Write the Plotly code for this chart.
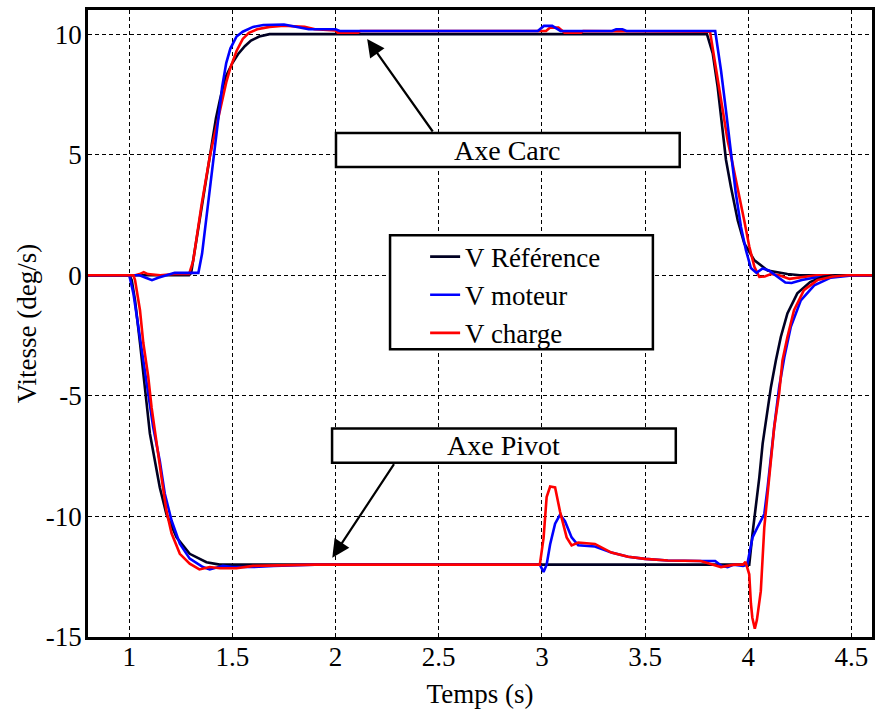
import plotly.graph_objects as go

# ---- Axe Carc : vitesse (deg/s) en fonction du temps (s) ----
carc_ref_t = [0.80, 1.29, 1.30, 1.315, 1.34, 1.36, 1.38, 1.40, 1.42, 1.44, 1.466, 1.50, 1.53,
              1.56, 1.59, 1.63, 1.68, 3.80, 3.828, 3.852, 3.876, 3.892, 3.916, 3.949, 3.981,
              4.03, 4.094, 4.19, 4.25, 4.60]
carc_ref_v = [0, 0, 0.1, 0.9, 2.3, 3.4, 4.5, 5.6, 6.5, 7.3, 8.2, 8.8, 9.2,
              9.5, 9.73, 9.9, 10.0, 10.0, 9.2, 7.8, 6.0, 4.8, 3.67, 2.28, 1.32,
              0.62, 0.2, 0.05, 0, 0]

carc_mot_t = [0.80, 1.00, 1.05, 1.08, 1.11, 1.14, 1.18, 1.22, 1.32, 1.335, 1.353, 1.377, 1.40,
              1.414, 1.43, 1.45, 1.47, 1.49, 1.52, 1.55, 1.60, 1.65, 1.75, 1.82, 1.87, 2.00,
              2.02, 2.98, 3.01, 3.05, 3.09, 3.34, 3.36, 3.39, 3.41, 3.84, 3.868, 3.892, 3.916,
              3.94, 3.965, 3.989, 4.013, 4.04, 4.07, 4.10, 4.14, 4.18, 4.21, 4.26, 4.32, 4.40,
              4.46, 4.60]
carc_mot_v = [0, 0, 0, -0.1, -0.2, -0.1, 0.0, 0.1, 0.1, 0.1, 0.9, 2.6, 4.1,
              5.0, 6.3, 7.8, 8.8, 9.4, 9.9, 10.1, 10.3, 10.38, 10.4, 10.3, 10.2, 10.2,
              10.13, 10.13, 10.34, 10.34, 10.13, 10.13, 10.2, 10.2, 10.13, 10.13, 8.5, 6.85, 5.07,
              3.4, 2.0, 1.04, 0.3, 0.1, 0.28, 0.2, -0.05, -0.3, -0.32, -0.2, -0.1, -0.05,
              0, 0]

carc_chg_t = [0.80, 1.03, 1.05, 1.07, 1.09, 1.15, 1.22, 1.29, 1.31, 1.33, 1.35, 1.37, 1.39,
              1.41, 1.43, 1.45, 1.47, 1.49, 1.52, 1.55, 1.58, 1.62, 1.68, 1.75, 1.85, 1.90,
              2.00, 2.01, 2.11, 2.12, 3.02, 3.04, 3.08, 3.10, 3.11, 3.19, 3.20, 3.815, 3.83,
              3.855, 3.88, 3.90, 3.92, 3.95, 3.98, 4.005, 4.03, 4.054, 4.08, 4.11, 4.15, 4.20,
              4.25, 4.33, 4.60]
carc_chg_v = [0, 0, 0.05, 0.13, 0.05, 0.0, 0.05, 0.05, 0.6, 1.8, 2.9, 3.9, 4.9,
              5.7, 6.5, 7.3, 8.0, 8.6, 9.3, 9.8, 10.05, 10.2, 10.3, 10.35, 10.3, 10.2,
              10.15, 10.06, 10.06, 10.13, 10.13, 10.27, 10.27, 10.13, 10.06, 10.06, 10.13, 10.1, 9.3,
              7.9, 6.5, 5.6, 4.8, 3.6, 2.3, 1.2, 0.35, -0.07, -0.05, 0.05, 0.0, -0.15,
              -0.1, 0, 0]

# ---- Axe Pivot ----
pivot_ref_t = [0.80, 1.00, 1.012, 1.028, 1.052, 1.068, 1.084, 1.10, 1.124, 1.148, 1.18, 1.229,
               1.293, 1.374, 1.438, 4.005, 4.021, 4.037, 4.054, 4.07, 4.094, 4.11, 4.134,
               4.158, 4.19, 4.238, 4.30, 4.36, 4.42, 4.60]
pivot_ref_v = [0, 0, -0.2, -1.04, -2.8, -4.2, -5.3, -6.56, -7.7, -8.8, -9.9, -10.87,
               -11.55, -11.9, -12.0, -12.0, -10.7, -9.6, -8.37, -6.98, -5.6, -4.64, -3.53,
               -2.56, -1.58, -0.75, -0.28, -0.07, 0, 0]

pivot_mot_t = [0.80, 1.00, 1.02, 1.044, 1.068, 1.092, 1.116, 1.148, 1.172, 1.205, 1.245, 1.293,
               1.357, 1.39, 1.454, 1.50, 1.60, 1.70, 1.90, 2.99, 3.008, 3.023, 3.04, 3.064,
               3.088, 3.112, 3.144, 3.176, 3.257, 3.337, 3.418, 3.50, 3.61, 3.77, 3.84, 3.87,
               3.90, 3.93, 3.975, 3.995, 4.005, 4.021, 4.045, 4.078, 4.094, 4.11, 4.126, 4.15,
               4.175, 4.206, 4.255, 4.32, 4.40, 4.49, 4.60]
pivot_mot_v = [0, 0, -0.75, -2.15, -3.5, -4.9, -6.3, -7.7, -9.05, -10.17, -11.13, -11.75,
               -12.1, -12.2, -12.05, -12.1, -12.1, -12.05, -12.0, -12.0, -12.3, -12.0, -11.15, -10.3,
               -9.93, -10.2, -10.87, -11.2, -11.25, -11.5, -11.67, -11.76, -11.83, -11.85, -11.85, -12.05,
               -12.1, -12.0, -12.05, -12.0, -11.55, -10.87, -10.45, -9.9, -8.8, -7.4, -6.3, -4.64,
               -3.4, -2.15, -1.04, -0.42, -0.1, -0.02, 0]

pivot_chg_t = [0.80, 1.02, 1.028, 1.052, 1.068, 1.092, 1.108, 1.132, 1.156, 1.18, 1.205, 1.245,
               1.293, 1.34, 1.39, 1.44, 1.52, 1.60, 1.90, 2.99, 3.008, 3.023, 3.04, 3.064,
               3.088, 3.12, 3.144, 3.176, 3.257, 3.337, 3.418, 3.50, 3.61, 3.77, 3.868, 3.93,
               3.975, 3.987, 4.005, 4.013, 4.02, 4.032, 4.042, 4.061, 4.07, 4.078, 4.094, 4.11,
               4.126, 4.15, 4.166, 4.19, 4.222, 4.27, 4.335, 4.41, 4.48, 4.60]
pivot_chg_v = [0, 0, -0.2, -1.45, -2.8, -4.2, -5.47, -6.98, -8.37, -9.76, -10.7, -11.55,
               -11.96, -12.2, -12.1, -12.15, -12.15, -12.05, -12.0, -12.0, -10.9, -9.2, -8.76, -8.8,
               -9.8, -10.87, -11.2, -11.08, -11.14, -11.5, -11.67, -11.76, -11.83, -11.85, -12.1, -12.0,
               -12.0, -11.88, -12.4, -13.6, -14.2, -14.66, -14.3, -13.1, -11.84, -10.45, -9.06, -7.68,
               -6.3, -4.9, -3.53, -2.56, -1.45, -0.62, -0.2, -0.05, 0, 0]

# ---- Axes ----
x_ticks = [1, 1.5, 2, 2.5, 3, 3.5, 4, 4.5]
x_ticktext = ["1", "1.5", "2", "2.5", "3", "3.5", "4", "4.5"]
y_ticks = [-15, -10, -5, 0, 5, 10]
y_ticktext = ["-15", "-10", "-5", "0", "5", "10"]

series_names = ["V Référence", "V moteur", "V charge"]

C_REF = "#000022"
C_MOT = "#0000ff"
C_CHG = "#ff0000"
FONT = "Liberation Serif"
LW = 2.6

fig = go.Figure()

# Carc traces (no legend entry)
for t, v, c in [(carc_ref_t, carc_ref_v, C_REF),
                (carc_chg_t, carc_chg_v, C_CHG),
                (carc_mot_t, carc_mot_v, C_MOT)]:
    fig.add_trace(go.Scatter(x=t, y=v, mode="lines", line=dict(color=c, width=LW),
                             showlegend=False, hoverinfo="skip"))

# Pivot traces (carry the legend)
for i, (t, v, c) in enumerate([(pivot_ref_t, pivot_ref_v, C_REF),
                               (pivot_mot_t, pivot_mot_v, C_MOT),
                               (pivot_chg_t, pivot_chg_v, C_CHG)]):
    fig.add_trace(go.Scatter(x=t, y=v, mode="lines", line=dict(color=c, width=LW),
                             name=series_names[i], legendgroup=f"g{i}", showlegend=True))

# Legend frame
fig.add_shape(type="rect", xref="x", yref="y", x0=2.264, x1=3.538, y0=-3.07, y1=1.66,
              line=dict(color="black", width=2.5), fillcolor="white", layer="above")

# Label boxes
for (x0, x1, y0, y1) in [(2.002, 3.668, 4.485, 5.90), (1.983, 3.649, -7.77, -6.35)]:
    fig.add_shape(type="rect", xref="x", yref="y", x0=x0, x1=x1, y0=y0, y1=y1,
                  line=dict(color="black", width=2.5), fillcolor="white", layer="above")

fig.add_annotation(x=2.835, y=5.19, xref="x", yref="y", text="Axe Carc", showarrow=False,
                   font=dict(family=FONT, size=28, color="black"))
fig.add_annotation(x=2.816, y=-7.06, xref="x", yref="y", text="Axe Pivot", showarrow=False,
                   font=dict(family=FONT, size=28, color="black"))

# Arrows
fig.add_annotation(x=2.153, y=9.8, ax=2.476, ay=5.9, xref="x", yref="y", axref="x", ayref="y",
                   text="", showarrow=True, arrowhead=2, arrowsize=1.6, arrowwidth=2.2,
                   arrowcolor="black")
fig.add_annotation(x=1.984, y=-11.71, ax=2.288, ay=-7.77, xref="x", yref="y", axref="x", ayref="y",
                   text="", showarrow=True, arrowhead=2, arrowsize=1.6, arrowwidth=2.2,
                   arrowcolor="black")

axis_common = dict(showgrid=True, gridcolor="black", gridwidth=1, griddash="4px,3px",
                   showline=True, linecolor="black", linewidth=2.5, mirror=True,
                   zeroline=False, ticks="",
                   tickfont=dict(family=FONT, size=27, color="black"))

fig.update_xaxes(range=[0.8, 4.6], tickvals=x_ticks, ticktext=x_ticktext,
                 title=dict(text="Temps (s)", font=dict(family=FONT, size=27, color="black"),
                            standoff=16),
                 ticklabelstandoff=-6, **axis_common)
fig.update_yaxes(range=[-15, 11], tickvals=y_ticks, ticktext=y_ticktext,
                 title=dict(text="Vitesse (deg/s)", font=dict(family=FONT, size=27, color="black"),
                            standoff=2),
                 ticklabelstandoff=-2, **axis_common)

fig.update_layout(
    width=877, height=709,
    margin=dict(l=88, r=2, t=10, b=72),
    paper_bgcolor="white", plot_bgcolor="white",
    font=dict(family=FONT, size=27, color="black"),
    showlegend=True,
    legend=dict(x=0.43, y=0.645, xanchor="left", yanchor="top",
                bgcolor="rgba(0,0,0,0)", borderwidth=0,
                font=dict(family=FONT, size=27, color="black"),
                tracegroupgap=0, traceorder="grouped"),
)

fig.write_html("out.html")
